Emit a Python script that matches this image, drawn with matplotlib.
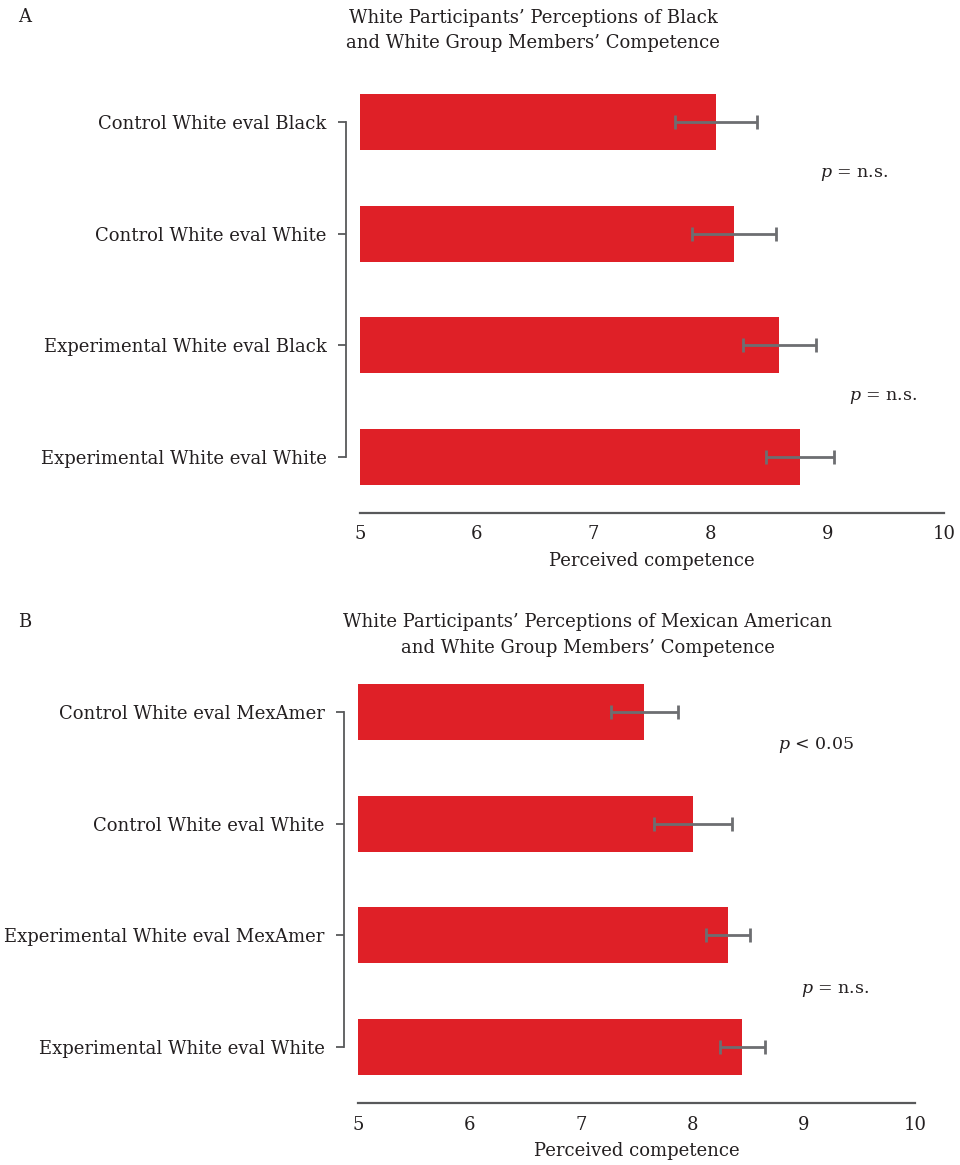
import matplotlib
matplotlib.use("Agg")
import matplotlib.pyplot as plt

plt.rcParams['font.family'] = ['DejaVu Serif']
plt.rcParams['mathtext.fontset'] = 'dejavuserif'

# panel A data
labels_a = ["Control White eval Black", "Control White eval White",
            "Experimental White eval Black", "Experimental White eval White"]
means_a = [8.05, 8.20, 8.59, 8.77]
errs_a = [0.35, 0.36, 0.31, 0.29]

# panel B data
labels_b = ["Control White eval MexAmer", "Control White eval White",
            "Experimental White eval MexAmer", "Experimental White eval White"]
means_b = [7.57, 8.01, 8.32, 8.45]
errs_b = [0.30, 0.35, 0.20, 0.20]

xticks = [5, 6, 7, 8, 9, 10]

BAR = "#df2027"
ERR = "#6d6e71"
AX = "#58595b"
TXT = "#231f20"
W, H = 960, 1165


def panel(fig, rect, labels, means, errs, pvals):
    ax = fig.add_axes(rect)
    y = list(range(len(labels)))
    ax.barh(y, [m - 5 for m in means], left=5, height=0.5, color=BAR)
    ax.errorbar(means, y, xerr=errs, fmt='none', ecolor=ERR,
                elinewidth=2, capsize=5, capthick=2)
    ax.set_xlim(5, 10)
    ax.set_ylim(3.5, -0.5)
    ax.set_xticks(xticks)
    ax.set_yticks(y)
    ax.set_yticklabels(labels)
    ax.tick_params(axis='x', length=0, pad=9, labelsize=13, labelcolor=TXT)
    ax.tick_params(axis='y', length=6, width=1.3, color=AX, pad=8,
                   labelsize=13, labelcolor=TXT)
    for s in ['top', 'right']:
        ax.spines[s].set_visible(False)
    ax.spines['left'].set_bounds(0, 3)
    ax.spines['left'].set_position(('outward', 10))
    ax.spines['left'].set_color(AX)
    ax.spines['left'].set_linewidth(1.3)
    ax.spines['bottom'].set_color(AX)
    ax.spines['bottom'].set_linewidth(1.6)
    ax.set_xlabel("Perceived competence", fontsize=13, color=TXT, labelpad=6)
    for px, py, s in pvals:
        ax.text(px, py, s, fontsize=12.5, color=TXT, va='center', ha='left')
    return ax


fig = plt.figure(figsize=(W / 100, H / 100), dpi=100)

# panel A
panel(fig, [360 / W, 1 - 513 / H, 584 / W, 447 / H], labels_a, means_a, errs_a,
      [(8.94, 0.47, r"$\mathit{p}$ = n.s."), (9.19, 2.47, r"$\mathit{p}$ = n.s.")])
fig.text(18 / W, 1 - 17 / H, "A", fontsize=13, color=TXT, va='center')
fig.text(533 / W, 1 - 30.5 / H,
         "White Participants\u2019 Perceptions of Black\nand White Group Members\u2019 Competence",
         fontsize=13, color=TXT, ha='center', va='center', linespacing=1.55)

# panel B
panel(fig, [358 / W, 1 - 1103 / H, 557 / W, 447 / H], labels_b, means_b, errs_b,
      [(8.77, 0.30, r"$\mathit{p}$ < 0.05"), (8.98, 2.49, r"$\mathit{p}$ = n.s.")])
fig.text(18 / W, 1 - 622 / H, "B", fontsize=13, color=TXT, va='center')
fig.text(588 / W, 1 - 635 / H,
         "White Participants\u2019 Perceptions of Mexican American\nand White Group Members\u2019 Competence",
         fontsize=13, color=TXT, ha='center', va='center', linespacing=1.55)

fig.savefig("out.png", dpi=100)
